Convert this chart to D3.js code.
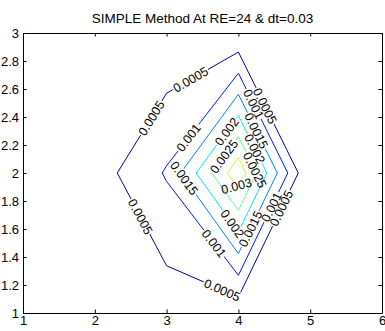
<!DOCTYPE html>
<html>
<head>
<meta charset="utf-8">
<script src="https://cdn.jsdelivr.net/npm/d3@7"></script>
<style>
  html, body { margin: 0; padding: 0; background: #fff; }
  svg { display: block; font-family: "Liberation Sans", Arial, Helvetica, sans-serif; }
</style>
</head>
<body>
<svg id="chart" width="385" height="331"></svg>
<script>
// sample grid of the field
const xGrid = [1, 2, 3, 4, 5, 6];
const yGrid = [1, 2, 3];
// field values, one row per y, bottom row first
const zRow1 = [0, 0.0001, 0.00022, 0.00013, 0, 0];
const zRow2 = [0, 0.00025, 0.00105, 0.00336, -0.00007, 0];
const zRow3 = [0, 0.0001, 0.000085, 0.00005, 0, 0];
const levels = [0.0005, 0.001, 0.0015, 0.002, 0.0025, 0.003];
const xTicks = [1, 2, 3, 4, 5, 6];
const yTicks = [1, 1.2, 1.4, 1.6, 1.8, 2, 2.2, 2.4, 2.6, 2.8, 3];
const title = "SIMPLE Method At RE=24 & dt=0.03";
// inline contour labels: which level, and a rough spot near the line
const labelLevels = [0.0005, 0.0005, 0.0005, 0.0005, 0.0005, 0.0005,
                     0.001, 0.001, 0.001, 0.001,
                     0.0015, 0.0015, 0.0015,
                     0.002, 0.002, 0.002,
                     0.0025, 0.0025,
                     0.003];
const labelSpots = [[3.35, 2.652], [2.79, 2.391], [4.38, 2.481], [2.59, 1.676], [3.77, 1.159], [4.60, 1.748],
                    [4.21, 2.493], [3.30, 2.255], [3.63, 1.486], [4.45, 1.759],
                    [4.25, 2.302], [3.24, 1.962], [4.15, 1.605],
                    [3.84, 2.295], [4.19, 2.164], [3.91, 1.636],
                    [3.77, 2.129], [4.18, 2.009],
                    [3.99, 1.914]];

// jet-like line colours, one per level
const levelColors = ["#00009e", "#0010ff", "#0080ff", "#00e8ff", "#5cffa0", "#ccff30"];

const width = 385, height = 331;
const margin = {top: 33, right: 3, bottom: 18, left: 23};

const svg = d3.select("#chart");

const x = d3.scaleLinear().domain([1, 6]).range([margin.left, width - margin.right]);
const y = d3.scaleLinear().domain([1, 3]).range([height - margin.bottom, margin.top]);

// contour the grid, d3 puts cell i at i + 0.5
const nx = xGrid.length, ny = yGrid.length;
const values = [].concat(zRow1, zRow2, zRow3);
const contours = d3.contours().size([nx, ny]).thresholds(levels)(values);

const dx = xGrid[1] - xGrid[0], dy = yGrid[1] - yGrid[0];
const toPx = p => [x(xGrid[0] + (p[0] - 0.5) * dx), y(yGrid[0] + (p[1] - 0.5) * dy)];

const rings = contours.map(c => {
  const out = [];
  c.coordinates.forEach(poly => poly.forEach(ring => out.push(ring.map(toPx))));
  return out;
});

// nearest point on a level's rings, plus the local direction
function snap(levelIdx, px, py) {
  let best = null;
  rings[levelIdx].forEach(ring => {
    for (let i = 0; i < ring.length - 1; i++) {
      const [ax, ay] = ring[i], [bx, by] = ring[i + 1];
      const vx = bx - ax, vy = by - ay;
      const len2 = vx * vx + vy * vy;
      if (!len2) continue;
      let t = ((px - ax) * vx + (py - ay) * vy) / len2;
      t = Math.max(0, Math.min(1, t));
      const qx = ax + t * vx, qy = ay + t * vy;
      const d = (qx - px) ** 2 + (qy - py) ** 2;
      if (!best || d < best.d) best = {d, x: qx, y: qy, ang: Math.atan2(vy, vx) * 180 / Math.PI};
    }
  });
  let a = best.ang;
  if (a > 90) a -= 180;
  if (a <= -90) a += 180;
  best.ang = a;
  return best;
}

const defs = svg.append("defs");

// axes box
svg.append("rect")
  .attr("x", x(1)).attr("y", y(3))
  .attr("width", x(6) - x(1)).attr("height", y(1) - y(3))
  .attr("fill", "#fff");

// labels first (hidden layer order fixed later) so their widths can be measured
const labelFont = 12.5;
const labels = labelLevels.map((lv, i) => {
  const li = levels.indexOf(lv);
  const s = snap(li, x(labelSpots[i][0]), y(labelSpots[i][1]));
  if (lv === 0.003) s.ang = -15;
  return {li, text: String(lv), ...s};
});

const lineG = svg.append("g");
const labelG = svg.append("g");

labelG.selectAll("text")
  .data(labels)
  .join("text")
  .attr("transform", d => `translate(${d.x},${d.y}) rotate(${d.ang})`)
  .attr("text-anchor", "middle")
  .attr("dy", "0.36em")
  .attr("font-size", labelFont)
  .attr("fill", "#000")
  .text(d => d.text)
  .each(function(d) { d.w = this.getComputedTextLength(); });

// masks cut a gap in each level's line where its labels sit
levels.forEach((lv, li) => {
  const m = defs.append("mask").attr("id", "gap" + li)
    .attr("maskUnits", "userSpaceOnUse")
    .attr("x", 0).attr("y", 0).attr("width", width).attr("height", height);
  m.append("rect").attr("width", width).attr("height", height).attr("fill", "#fff");
  labels.filter(d => d.li === li).forEach(d => {
    m.append("rect")
      .attr("x", -d.w / 2 - 1).attr("y", -5)
      .attr("width", d.w + 2).attr("height", 10)
      .attr("transform", `translate(${d.x},${d.y}) rotate(${d.ang})`)
      .attr("fill", "#000");
  });
});

const line = d3.line();
rings.forEach((rs, li) => {
  const g = lineG.append("g").attr("mask", `url(#gap${li})`);
  rs.forEach(r => {
    g.append("path")
      .attr("d", line(r) + "Z")
      .attr("fill", "none")
      .attr("stroke", levelColors[li])
      .attr("stroke-width", 1);
  });
});

// axes, ticks pointing inwards on all four sides
const tickLen = 3.5;
const fontSize = 13;

const gx = svg.append("g")
  .attr("transform", `translate(0,${y(1)})`)
  .call(d3.axisBottom(x).tickValues(xTicks).tickFormat(d3.format("d"))
    .tickSizeInner(-tickLen).tickSizeOuter(0).tickPadding(3));
svg.append("g")
  .attr("transform", `translate(0,${y(3)})`)
  .call(d3.axisTop(x).tickValues(xTicks).tickFormat("")
    .tickSizeInner(-tickLen).tickSizeOuter(0));
const gy = svg.append("g")
  .attr("transform", `translate(${x(1)},0)`)
  .call(d3.axisLeft(y).tickValues(yTicks).tickFormat(d => String(d))
    .tickSizeInner(-tickLen).tickSizeOuter(0).tickPadding(4));
svg.append("g")
  .attr("transform", `translate(${x(6)},0)`)
  .call(d3.axisRight(y).tickValues(yTicks).tickFormat("")
    .tickSizeInner(-tickLen).tickSizeOuter(0));

svg.selectAll(".domain").attr("stroke", "#000").attr("stroke-width", 1);
svg.selectAll(".tick line").attr("stroke", "#000");
svg.selectAll(".tick text")
  .attr("fill", "#000")
  .attr("font-size", fontSize)
  .attr("font-family", "Liberation Sans, Arial, sans-serif");

svg.append("text")
  .attr("x", (x(1) + x(6)) / 2)
  .attr("y", 23)
  .attr("text-anchor", "middle")
  .attr("font-size", 13.5)
  .attr("fill", "#000")
  .text(title);
</script>
</body>
</html>
